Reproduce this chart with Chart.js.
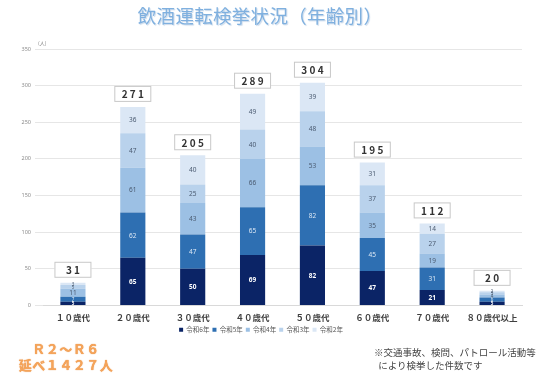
<!DOCTYPE html>
<html>
<head>
<meta charset="utf-8">
<script src="https://cdn.jsdelivr.net/npm/chart.js"></script>
<style>
  body { margin: 0; background: #fff; font-family: "Noto Sans CJK JP", sans-serif; }
  #wrap { position: relative; width: 550px; height: 381px; overflow: hidden; }
  #title {
    position: absolute; left: -15px; top: 2px; width: 550px; text-align: center;
    font-size: 18.5px; color: #7fb0df; letter-spacing: 0.3px;
    text-shadow: 1px 1px 1px #c8d8ea;
  }
  #total {
    position: absolute; left: 6px; top: 341px; width: 120px; text-align: center;
    font-size: 13px; font-weight: bold; color: #f5a45a; line-height: 16px; letter-spacing: 0.5px;
    text-shadow: 0 0 1px #e07a20;
  }
  #note {
    position: absolute; left: 374px; top: 346px; font-size: 9.5px; color: #444; line-height: 13px;
  }
</style>
</head>
<body>
<div id="wrap">
  <canvas id="c" width="550" height="381"></canvas>
  <div id="title">飲酒運転検挙状況（年齢別）</div>
  <div id="total">Ｒ２～Ｒ６<br>延べ１４２７人</div>
  <div id="note">※交通事故、検問、パトロール活動等<br>&nbsp;&nbsp;により検挙した件数です</div>
</div>
<script>
// 年齢区分
const ageLabels = ["１０歳代", "２０歳代", "３０歳代", "４０歳代", "５０歳代", "６０歳代", "７０歳代", "８０歳代以上"];

// 年ごとの検挙人数（下から 令和6年 → 令和2年）
const r6 = [5, 65, 50, 69, 82, 47, 21, 5];
const r5 = [7, 62, 47, 65, 82, 45, 31, 6];
const r4 = [11, 61, 43, 66, 53, 35, 19, 4];
const r3 = [5, 47, 25, 40, 48, 37, 27, 3];
const r2 = [3, 36, 40, 49, 39, 31, 14, 2];

const yTicks = [0, 50, 100, 150, 200, 250, 300, 350];

const seriesNames = ["令和6年", "令和5年", "令和4年", "令和3年", "令和2年"];
const seriesData = [r6, r5, r4, r3, r2];
const seriesColors = ["#0b2466", "#2e6fb2", "#9cc0e4", "#b9d2ec", "#dbe7f5"];
const labelColors = ["#ffffff", "#dce8f5", "#4a5a70", "#4a5a70", "#4a5a70"];

// 各セグメントの数値と合計ボックス
const labelPlugin = {
    id: "labels",
    afterDatasetsDraw(chart) {
        const ctx = chart.ctx;
        ctx.save();
        ctx.textAlign = "center";
        ctx.textBaseline = "middle";
        chart.data.datasets.forEach((ds, di) => {
            const meta = chart.getDatasetMeta(di);
            meta.data.forEach((bar, i) => {
                const v = ds.data[i];
                const h = Math.abs(bar.base - bar.y);
                const size = h < 8 ? 4.5 : 6.5;
                ctx.font = (di === 0 ? "bold " : "") + size + "px 'Noto Sans', sans-serif";
                ctx.fillStyle = labelColors[di];
                ctx.fillText(v, bar.x, (bar.y + bar.base) / 2 + 0.5);
            });
        });
        // 合計
        const topMeta = chart.getDatasetMeta(chart.data.datasets.length - 1);
        topMeta.data.forEach((bar, i) => {
            const total = seriesData.reduce((s, arr) => s + arr[i], 0);
            const w = 37, h = 16;
            const x = bar.x - w / 2, y = bar.y - 5 - h;
            ctx.fillStyle = "#ffffff";
            ctx.fillRect(x, y, w, h);
            ctx.strokeStyle = "#c8c8c8";
            ctx.lineWidth = 1;
            ctx.strokeRect(x + 0.5, y + 0.5, w - 1, h - 1);
            ctx.fillStyle = "#333333";
            ctx.font = "bold 10px 'Noto Sans CJK JP', sans-serif";
            ctx.fillText(String(total).split("").join(" "), bar.x, y + h / 2 + 0.5);
        });
        // 単位
        ctx.font = "5px 'Noto Sans CJK JP', sans-serif";
        ctx.fillStyle = "#777";
        ctx.textAlign = "left";
        ctx.fillText("(人)", 38, chart.chartArea.top - 6);
        ctx.restore();
    }
};

new Chart(document.getElementById("c"), {
    type: "bar",
    data: {
        labels: ageLabels,
        datasets: seriesData.map((d, i) => ({
            label: seriesNames[i],
            data: d,
            backgroundColor: seriesColors[i],
            borderWidth: 0,
            barPercentage: 0.42,
            categoryPercentage: 1.0
        }))
    },
    options: {
        responsive: false,
        animation: false,
        layout: { padding: { left: 0, right: 28, top: 49, bottom: 38 } },
        plugins: {
            legend: {
                position: "bottom",
                labels: {
                    boxWidth: 4, boxHeight: 4, padding: 3,
                    color: "#555",
                    font: { size: 6.5, family: "'Noto Sans CJK JP', sans-serif" }
                }
            },
            tooltip: { enabled: false }
        },
        scales: {
            x: {
                stacked: true,
                grid: { display: false, drawTicks: false },
                border: { color: "#d9d9d9" },
                afterFit: (scale) => { scale.height = 18; },
                ticks: {
                    color: "#404040", padding: 7,
                    font: { size: 8.5, weight: "bold", family: "'Noto Sans CJK JP', sans-serif" }
                }
            },
            y: {
                stacked: true,
                min: 0, max: 350,
                afterBuildTicks: (scale) => { scale.ticks = yTicks.map(v => ({ value: v })); },
                afterFit: (scale) => { scale.width = 43; },
                grid: { color: "#e6e6e6" },
                border: { display: false },
                ticks: { color: "#8a8a8a", padding: 4, font: { size: 5.5, family: "'Noto Sans', sans-serif" } }
            }
        }
    },
    plugins: [labelPlugin]
});
</script>
</body>
</html>
